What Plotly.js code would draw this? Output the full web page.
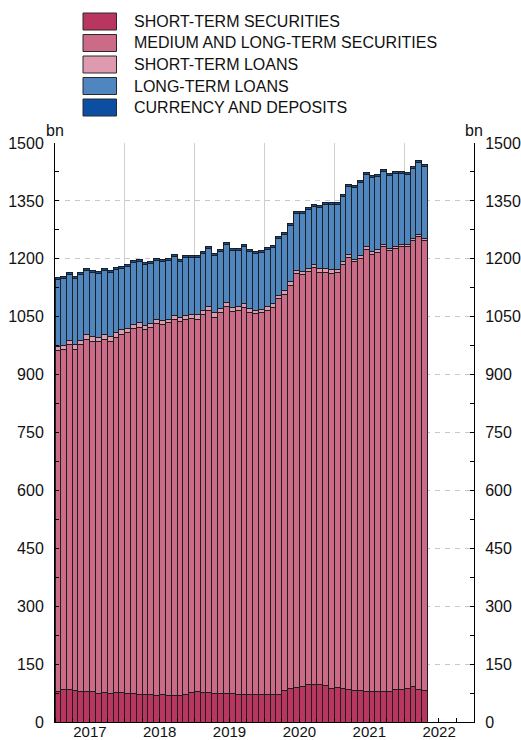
<!DOCTYPE html>
<html>
<head>
<meta charset="utf-8">
<script src="https://cdn.plot.ly/plotly-3.0.1.min.js"></script>
<style>
html,body{margin:0;padding:0;background:#fff;}
#chart{width:521px;height:740px;}
</style>
</head>
<body>
<div id="chart"></div>
<script>
// ---- data (bn) ----
const months = [
 '2017-01','2017-02','2017-03','2017-04','2017-05','2017-06','2017-07','2017-08','2017-09','2017-10','2017-11','2017-12',
 '2018-01','2018-02','2018-03','2018-04','2018-05','2018-06','2018-07','2018-08','2018-09','2018-10','2018-11','2018-12',
 '2019-01','2019-02','2019-03','2019-04','2019-05','2019-06','2019-07','2019-08','2019-09','2019-10','2019-11','2019-12',
 '2020-01','2020-02','2020-03','2020-04','2020-05','2020-06','2020-07','2020-08','2020-09','2020-10','2020-11','2020-12',
 '2021-01','2021-02','2021-03','2021-04','2021-05','2021-06','2021-07','2021-08','2021-09','2021-10','2021-11','2021-12',
 '2022-01','2022-02','2022-03','2022-04'
];
const shortTermSecurities = [
 80,83,83,81,80,79,78,75,76,74,77,77,
 75,74,72,72,71,69,70,69,68,69,71,77,
 78,77,76,74,74,73,74,72,70,70,70,71,
 71,71,71,82,86,90,92,97,98,98,94,88,
 89,86,85,81,81,79,80,78,78,80,85,85,
 87,91,85,81
];
const mediumLongSecurities = [
 882,881,894,885,897,912,908,911,916,913,920,928,
 933,945,951,945,951,963,960,965,975,968,972,968,
 966,978,990,975,987,1004,989,995,1005,991,988,989,
 996,1003,1026,1026,1046,1071,1067,1069,1079,1067,1071,1074,
 1076,1100,1118,1111,1121,1146,1132,1139,1154,1141,1142,1146,
 1144,1157,1173,1167
];
const shortTermLoans = [
 12,11,12,11,12,12,12,11,12,11,12,12,
 11,12,12,11,11,10,11,10,11,10,10,10,
 11,10,10,11,10,10,10,10,9,9,9,9,
 9,9,9,9,9,9,9,9,9,9,9,9,
 7,7,7,7,6,6,6,6,6,6,6,6,
 6,5,6,5
];
const longTermLoans = [
 173,175,171,171,170,166,167,166,166,167,164,159,
 160,160,159,157,155,153,151,151,153,146,151,149,
 149,148,150,149,149,149,149,145,148,149,148,148,
 147,146,146,147,146,148,150,153,149,159,166,169,
 168,169,178,185,189,188,192,191,189,188,188,185,
 182,182,185,187
];
const currencyDeposits = [
 5,5,5,5,5,5,5,5,5,5,5,5,
 5,5,5,5,5,5,5,5,5,5,5,5,
 5,5,5,5,5,5,5,5,5,5,5,5,
 5,5,5,5,5,5,5,5,5,5,5,5,
 5,5,5,5,5,5,5,5,5,5,5,5,
 5,5,5,5
];
const seriesNames = ['SHORT-TERM SECURITIES','MEDIUM AND LONG-TERM SECURITIES','SHORT-TERM LOANS','LONG-TERM LOANS','CURRENCY AND DEPOSITS'];
const seriesColors = ['#b8365f','#cc6b88','#de9bb0','#4f86c0','#0b4ea2'];
const yTickVals = [0,150,300,450,600,750,900,1050,1200,1350,1500];

// ---- chart ----
const FONT = 'Liberation Sans, Arial, sans-serif';
const seriesData = [shortTermSecurities, mediumLongSecurities, shortTermLoans, longTermLoans, currencyDeposits];
// bars centred in each month, each exactly one calendar month wide
const xCenters = [], xWidths = [];
months.forEach(m => {
  const [yy, mm] = m.split('-').map(Number);
  const start = Date.UTC(yy, mm - 1, 1);
  const end = Date.UTC(yy, mm, 1);
  xCenters.push(new Date((start + end) / 2).toISOString().replace('T', ' ').replace('Z', ''));
  xWidths.push(end - start);
});
const traces = seriesData.map((vals, k) => ({
  type: 'bar',
  x: xCenters,
  y: vals,
  name: seriesNames[k],
  width: xWidths,
  marker: {color: seriesColors[k], line: {color: '#1e1e1e', width: 1}},
  showlegend: false,
  hoverinfo: 'x+y+name'
}));
traces.push({
  type: 'scatter', x: [xCenters[0]], y: [0], yaxis: 'y2', mode: 'markers',
  marker: {opacity: 0}, showlegend: false, hoverinfo: 'skip'
});

// manual legend (wide swatches like the original)
const L = 55, R = 474, T = 143, B = 722;
const px = v => (v - L) / (R - L);
const py = v => (B - v) / (B - T);
const shapes = [];
const annotations = [];
const rowCenters = [21.5, 43, 64.5, 86, 107.5];
seriesNames.forEach((n, k) => {
  const c = rowCenters[k];
  shapes.push({type: 'rect', xref: 'paper', yref: 'paper',
    x0: px(83), x1: px(116.5), y0: py(c + 8.5), y1: py(c - 8.5),
    fillcolor: seriesColors[k], line: {color: '#2a2a2a', width: 1}});
  annotations.push({xref: 'paper', yref: 'paper', x: px(132), y: py(c),
    xanchor: 'left', yanchor: 'middle', text: n, showarrow: false,
    font: {family: FONT, size: 16, color: '#111'}});
});
annotations.push({xref: 'paper', yref: 'paper', x: 0, y: 1, xanchor: 'center', yanchor: 'bottom',
  yshift: 2, text: 'bn', showarrow: false, font: {family: FONT, size: 16, color: '#111'}});
annotations.push({xref: 'paper', yref: 'paper', x: 1, y: 1, xanchor: 'center', yanchor: 'bottom',
  yshift: 2, text: 'bn', showarrow: false, font: {family: FONT, size: 16, color: '#111'}});

const yCommon = {
  range: [0, 1500],
  tickvals: yTickVals,
  ticks: 'inside', ticklen: 4, tickcolor: '#000',
  minor: {dtick: 75, tick0: 0, ticks: 'inside', ticklen: 4, tickcolor: '#000', showgrid: false},
  showline: true, linecolor: '#000', linewidth: 1,
  zeroline: false,
  ticklabelstandoff: 7,
  tickfont: {family: FONT, size: 16, color: '#111'},
  fixedrange: true,
  automargin: false
};

const layout = {
  width: 521, height: 740,
  margin: {l: L, r: 521 - R, t: T, b: 740 - B, pad: 0},
  paper_bgcolor: '#fff', plot_bgcolor: '#fff',
  barmode: 'stack', bargap: 0,
  showlegend: false,
  font: {family: FONT, size: 16, color: '#111'},
  xaxis: {
    type: 'date',
    range: ['2017-01-01', '2023-01-01'],
    tick0: '2017-01-01', dtick: 'M12',
    tickformat: '%Y',
    ticklabelmode: 'period',
    ticks: 'inside', ticklen: 4, tickcolor: '#000',
    minor: {dtick: 'M3', tick0: '2017-01-01', ticks: 'inside', ticklen: 4, tickcolor: '#000', showgrid: false},
    showgrid: true, gridcolor: '#cfcfcf', gridwidth: 1.2,
    showline: true, linecolor: '#000', linewidth: 1,
    zeroline: false,
    ticklabelstandoff: -4,
    tickfont: {family: FONT, size: 15, color: '#111'},
    fixedrange: true,
    automargin: false
  },
  yaxis: Object.assign({}, yCommon, {
    side: 'left',
    showgrid: true, gridcolor: '#c8c8c8', gridwidth: 1, griddash: '5px,5px'
  }),
  yaxis2: Object.assign({}, yCommon, {
    side: 'right', overlaying: 'y', showgrid: false
  }),
  shapes: shapes,
  annotations: annotations
};

Plotly.newPlot('chart', traces, layout, {displayModeBar: false, staticPlot: true});
</script>
</body>
</html>
